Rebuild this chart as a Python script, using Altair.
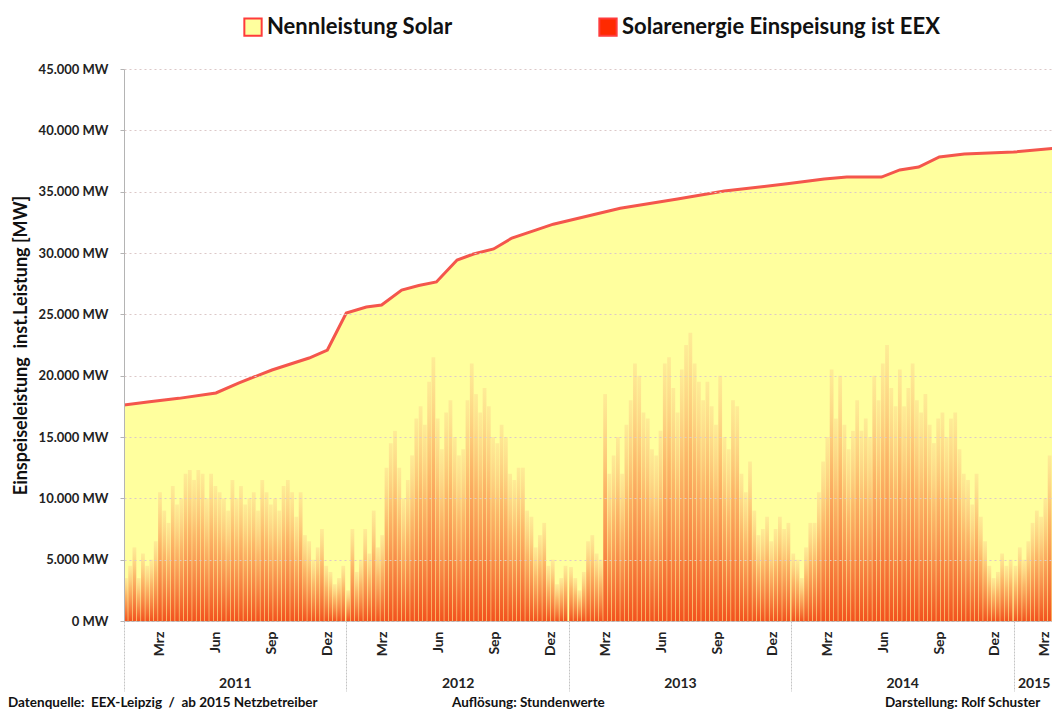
import altair as alt
import pandas as pd

# ---------------- data ----------------
# installed capacity (Nennleistung Solar), MW
cap_dates = ["2011-01-01", "2011-02-12", "2011-04-01", "2011-06-01", "2011-07-08",
             "2011-09-01", "2011-11-01", "2011-12-01", "2012-01-01", "2012-02-03",
             "2012-02-28", "2012-04-01", "2012-04-29", "2012-05-28", "2012-07-01",
             "2012-07-28", "2012-08-30", "2012-09-29", "2012-11-07", "2012-12-06",
             "2013-03-26", "2013-06-28", "2013-09-13", "2013-12-25", "2014-02-24",
             "2014-04-02", "2014-05-29", "2014-06-28", "2014-07-29", "2014-09-01",
             "2014-10-12", "2015-01-01", "2015-03-14"]
cap_values = [17600, 17880, 18150, 18590, 19400, 20460, 21440, 22090, 25110, 25600,
              25760, 26980, 27350, 27640, 29430, 29920, 30330, 31220, 31870, 32350,
              33650, 34400, 35050, 35650, 36030, 36190, 36190, 36770, 37010, 37830,
              38070, 38230, 38560]

# weekly peaks of the hourly EEX solar feed-in, MW (one value per 7 days from 1 Jan)
solar_2011 = [3500, 4500, 6000, 3500, 5500, 4500, 5000, 6500, 10500, 9000, 8000, 11000,
              9500, 10000, 12000, 12300, 11500, 12300, 12000, 10000, 12000, 11000, 10500,
              10000, 9000, 11500, 10000, 11000, 9500, 10000, 10500, 9000, 11500, 10500,
              9500, 10000, 9000, 11000, 11500, 10500, 8500, 10500, 7000, 6500, 5000, 6000,
              7500, 4500, 4000, 3000, 3500, 4500]
solar_2012 = [2500, 7500, 4000, 5000, 7500, 5500, 9000, 6000, 7000, 12500, 14500, 15500,
              12500, 10000, 11500, 13500, 16500, 17500, 16000, 19500, 21500, 16500, 14000,
              17000, 18000, 15000, 13500, 14000, 18000, 21000, 18500, 17000, 19000, 17500,
              15000, 14500, 16000, 15000, 12000, 11500, 12500, 12500, 9000, 8500, 6000, 7000,
              8000, 4500, 5000, 3000, 3500, 4500]
solar_2013 = [4400, 3500, 2500, 4000, 6500, 7000, 5500, 5000, 18500, 12000, 13500, 15000,
              12000, 16000, 18000, 21000, 20000, 17000, 16500, 14000, 13500, 15500, 21000,
              21500, 19000, 17000, 20500, 22500, 23500, 21000, 19500, 18000, 19500, 17500,
              16000, 20000, 15000, 14000, 18000, 17500, 12000, 10500, 13000, 9000, 7000, 7500,
              8500, 6500, 7500, 8500, 7500, 8000]
solar_2014 = [5500, 5000, 3500, 6000, 8000, 8000, 10500, 13000, 15000, 20500, 16500, 20000,
              16000, 14000, 15500, 18000, 15500, 16500, 15000, 20000, 18000, 21000, 22500,
              19000, 17500, 20500, 17500, 19000, 21000, 18000, 17000, 18500, 16000, 14500,
              16500, 17000, 15000, 16500, 17000, 14000, 12000, 11500, 9500, 12000, 8500, 6500,
              4500, 3500, 4000, 5500, 4500, 5000]
solar_2015 = [4500, 6000, 5000, 6500, 8000, 9000, 8500, 10000, 13500, 14000]

years = [2011, 2012, 2013, 2014, 2015]
year_labels = ["2011", "2012", "2013", "2014", "2015"]
year_mid = ["2011-07-02", "2012-07-02", "2013-07-02", "2014-07-02", "2015-02-03"]
series_names = ["Nennleistung Solar", "Solarenergie Einspeisung ist EEX"]
y_title = "Einspeiseleistung\u00a0 inst.Leistung [MW]"
footer_left = "Datenquelle:\u00a0 EEX-Leipzig\u00a0 /\u00a0 ab 2015 Netzbetreiber"
footer_mid = "Auflösung: Stundenwerte"
footer_right = "Darstellung: Rolf Schuster"

# ---------------- tables ----------------
cap_df = pd.DataFrame({"date": pd.to_datetime(cap_dates), "mw": cap_values,
                       "series": series_names[0]})

rows = []
for yr, vals in zip(years, [solar_2011, solar_2012, solar_2013, solar_2014, solar_2015]):
    y0 = pd.Timestamp(f"{yr}-01-01")
    y1 = pd.Timestamp(f"{yr + 1}-01-01")
    for i, v in enumerate(vals):
        s = y0 + pd.Timedelta(days=7 * i)
        e = min(s + pd.Timedelta(days=7), y1)
        rows.append({"start": s, "end": e, "mw": v})
solar_df = pd.DataFrame(rows)

year_df = pd.DataFrame({"boundary": [pd.Timestamp(f"{y}-01-01") for y in years],
                        "mid": pd.to_datetime(year_mid), "label": year_labels})

FONT = "Lato"
x_domain = [alt.DateTime(year=2011, month=1, date=1), alt.DateTime(year=2015, month=3, date=5)]
xscale = alt.Scale(domain=x_domain)
yscale = alt.Scale(domain=[0, 45000], nice=False)

month_vals = []
for y in [2011, 2012, 2013, 2014]:
    for m in [3, 6, 9, 12]:
        month_vals.append(alt.DateTime(year=y, month=m, date=1))
month_vals.append(alt.DateTime(year=2015, month=3, date=1))

y_axis = alt.Axis(
    values=list(range(0, 45001, 2500)),
    labelExpr="datum.value % 5000 == 0 ? replace(format(datum.value, ','), ',', '.') + ' MW' : ''",
    title=y_title,
    titleFont=FONT, titleFontSize=18, titleFontWeight="bold", titleColor="#111111",
    titlePadding=8,
    labelFont=FONT, labelFontSize=13, labelFontWeight="bold", labelColor="#222222",
    labelPadding=12, tickSize=4, tickColor="#b4b4b4", domainColor="#b4b4b4",
    grid=True, gridColor="#dcc8c8", gridDash=[2, 3], gridWidth=1, zindex=1,
)

month_axis = alt.Axis(
    values=month_vals, orient="bottom",
    labelExpr="month(datum.value)==2 ? 'Mrz' : month(datum.value)==5 ? 'Jun' : month(datum.value)==8 ? 'Sep' : 'Dez'",
    labelAngle=270, labelAlign="right", labelBaseline="middle", labelPadding=10,
    labelFont=FONT, labelFontSize=14, labelFontWeight="bold", labelColor="#222222",
    labelOffset={"condition": {"test": "year(datum.value) == 2015", "value": -5}, "value": 0},
    ticks=False, grid=False, domainColor="#b4b4b4", title=None, labelOverlap=False,
)

legend = alt.Legend(
    orient="none", legendX=118, legendY=-53, direction="horizontal", title=None,
    symbolType="square", symbolSize=300, symbolStrokeColor="#ff3b3b", symbolStrokeWidth=2,
    labelFont=FONT, labelFontSize=22, labelFontWeight="bold", labelColor="#111111",
    labelLimit=500, columnPadding=142, labelOffset=3,
)

area = alt.Chart(cap_df).mark_area(opacity=1, clip=True).encode(
    x=alt.X("date:T", scale=xscale, axis=month_axis),
    y=alt.Y("mw:Q", scale=yscale, axis=y_axis),
    fill=alt.Fill("series:N", scale=alt.Scale(domain=series_names, range=["#ffff9e", "#ff2a00"]),
                  legend=legend),
)

grad = alt.Gradient(
    gradient="linear",
    stops=[alt.GradientStop(color="rgba(252,200,135,0.35)", offset=0),
           alt.GradientStop(color="rgba(251,165,92,0.8)", offset=0.4),
           alt.GradientStop(color="#f2521e", offset=1)],
    x1=0, x2=0, y1=0, y2=1,
)
bars = alt.Chart(solar_df).mark_rect(color=grad, opacity=1, clip=True, x2Offset=-0.5).encode(
    x=alt.X("start:T", scale=xscale),
    x2="end:T",
    y=alt.Y("mw:Q", scale=yscale),
    y2=alt.datum(0),
)

line = alt.Chart(cap_df).mark_line(color="#f4564c", strokeWidth=3, clip=True).encode(
    x=alt.X("date:T", scale=xscale),
    y=alt.Y("mw:Q", scale=yscale),
)

inner = alt.layer(area, bars, line)

sep = alt.Chart(year_df).mark_point(opacity=0, size=0).encode(
    x=alt.X("boundary:T", scale=xscale, axis=alt.Axis(
        orient="bottom", values=[alt.DateTime(year=y, month=1, date=1) for y in years],
        labels=False, tickSize=70, tickColor="#c4c4c4", tickDash=[2, 1], domain=False,
        grid=False, title=None)),
    y=alt.value(0),
)

yearax = alt.Chart(year_df).mark_point(opacity=0, size=0).encode(
    x=alt.X("mid:T", scale=xscale, axis=alt.Axis(
        orient="bottom", values=[alt.DateTime(year=2011, month=7, date=2),
                                 alt.DateTime(year=2012, month=7, date=2),
                                 alt.DateTime(year=2013, month=7, date=2),
                                 alt.DateTime(year=2014, month=7, date=2),
                                 alt.DateTime(year=2015, month=2, date=3)],
        labelExpr="timeFormat(datum.value, '%Y')", ticks=False, domain=False, grid=False,
        labelPadding=55, labelFont=FONT, labelFontSize=14, labelFontWeight="bold",
        labelColor="#222222", title=None)),
    y=alt.value(0),
)

def footer(txt, xpos):
    return alt.Chart(pd.DataFrame({"t": [txt]})).mark_text(
        font=FONT, fontSize=13.5, fontWeight="bold", color="#111111",
        align="left", baseline="middle").encode(
        text="t:N", x=alt.value(xpos), y=alt.value(634))

chart = alt.layer(
    inner, sep, yearax,
    footer(footer_left, -116), footer(footer_mid, 328), footer(footer_right, 761),
).resolve_axis(x="independent").properties(
    width=928, height=552,
    autosize=alt.AutoSizeParams(type="none"),
    padding={"left": 116, "top": 61, "right": 0, "bottom": 88},
    background="white",
).configure_view(stroke=None)

chart.save("out.html", embed_options={"renderer": "svg", "actions": False})
